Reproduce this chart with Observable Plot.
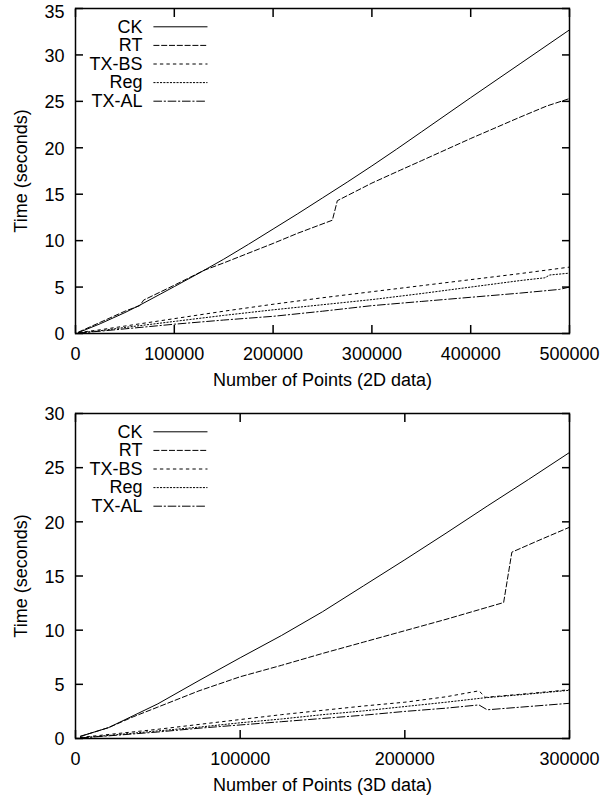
<!DOCTYPE html>
<html>
<head>
<meta charset="utf-8">
<script src="https://cdn.jsdelivr.net/npm/d3@7"></script>
<script src="https://cdn.jsdelivr.net/npm/@observablehq/plot@0.6"></script>
<style>
  html, body { margin: 0; padding: 0; background: white; }
  #chart svg { display: block; }
</style>
</head>
<body>
<div id="chart"></div>
<script>
// ---------- data ----------
const seriesNames = ["CK", "RT", "TX-BS", "Reg", "TX-AL"];

// 2D data chart
const xTicks2D = [0, 100000, 200000, 300000, 400000, 500000];
const yTicks2D = [0, 5, 10, 15, 20, 25, 30, 35];
const ck2dX = [3000, 25000, 50000, 65000, 100000, 125000, 150000, 175000, 200000, 225000, 250000, 275000, 300000, 325000, 350000, 375000, 400000, 450000, 500000];
const ck2dY = [0.1, 1.05, 2.25, 3.05, 5.05, 6.5, 8.0, 9.6, 11.25, 12.9, 14.6, 16.3, 18.05, 19.85, 21.7, 23.55, 25.4, 29.05, 32.7];
const rt2dX = [3000, 25000, 50000, 65000, 69000, 100000, 130000, 150000, 200000, 225000, 260000, 265000, 300000, 329000, 350000, 400000, 450000, 477000, 500000];
const rt2dY = [0.15, 1.2, 2.4, 3.0, 3.6, 5.2, 6.8, 7.6, 9.7, 10.8, 12.2, 14.3, 16.2, 17.6, 18.6, 21.0, 23.3, 24.5, 25.3];
const txbs2dX = [3000, 25000, 50000, 100000, 150000, 200000, 250000, 300000, 350000, 400000, 450000, 500000];
const txbs2dY = [0.1, 0.4, 0.8, 1.6, 2.4, 3.15, 3.85, 4.5, 5.15, 5.8, 6.45, 7.15];
const reg2dX = [3000, 25000, 50000, 100000, 150000, 200000, 250000, 300000, 350000, 400000, 450000, 475000, 480000, 500000];
const reg2dY = [0.05, 0.3, 0.65, 1.3, 1.95, 2.55, 3.1, 3.65, 4.3, 5.0, 5.7, 6.0, 6.3, 6.5];
const txal2dX = [3000, 25000, 50000, 100000, 150000, 200000, 250000, 300000, 350000, 400000, 450000, 490000, 500000];
const txal2dY = [0.05, 0.25, 0.5, 1.0, 1.45, 1.85, 2.4, 3.0, 3.45, 3.9, 4.35, 4.75, 5.0];

// 3D data chart
const xTicks3D = [0, 100000, 200000, 300000];
const yTicks3D = [0, 5, 10, 15, 20, 25, 30];
const ck3dX = [3000, 20000, 35000, 50000, 75000, 100000, 125000, 150000, 175000, 200000, 225000, 250000, 275000, 300000];
const ck3dY = [0.2, 1.0, 2.1, 3.2, 5.35, 7.45, 9.5, 11.7, 14.1, 16.5, 18.95, 21.45, 23.9, 26.4];
const rt3dX = [3000, 20000, 35000, 50000, 75000, 100000, 125000, 150000, 175000, 200000, 225000, 260000, 265000, 280000, 300000];
const rt3dY = [0.2, 1.0, 2.0, 2.9, 4.4, 5.7, 6.75, 7.85, 8.9, 9.95, 11.0, 12.55, 17.2, 18.2, 19.5];
const txbs3dX = [3000, 25000, 50000, 75000, 100000, 125000, 150000, 175000, 200000, 225000, 245000, 249000, 275000, 300000];
const txbs3dY = [0.1, 0.45, 0.85, 1.3, 1.75, 2.2, 2.6, 3.0, 3.35, 3.85, 4.4, 3.8, 4.15, 4.5];
const reg3dX = [3000, 25000, 50000, 75000, 100000, 125000, 150000, 175000, 200000, 225000, 248000, 275000, 300000];
const reg3dY = [0.05, 0.35, 0.7, 1.05, 1.45, 1.8, 2.2, 2.55, 2.95, 3.35, 3.75, 4.1, 4.45];
const txal3dX = [3000, 25000, 50000, 75000, 100000, 125000, 150000, 175000, 200000, 225000, 245000, 250000, 275000, 300000];
const txal3dY = [0.05, 0.3, 0.6, 0.95, 1.25, 1.55, 1.85, 2.15, 2.5, 2.8, 3.1, 2.65, 2.95, 3.25];

// ---------- styles ----------
const dashes = {"CK": null, "RT": "5.2,2.6", "TX-BS": "2.6,3.9", "Reg": "1.3,2", "TX-AL": "7.8,2.6,1.3,2.6"};
const FONT = "'Liberation Sans', Arial, Helvetica, sans-serif";

function toRows(xs, ys) { return xs.map((x, i) => ({x, y: ys[i]})); }

const lineShape = {draw(context, l) { context.moveTo(0, 0); context.lineTo(0, -l); }};

function makeChart({series, xTicks, yTicks, xLabel, marginTop, marginBottom, topLabelDy}) {
  const xMax = xTicks[xTicks.length - 1];
  const yMax = yTicks[yTicks.length - 1];
  const marks = [];
  // data lines
  series.forEach(([name, xs, ys]) => {
    marks.push(Plot.line(toRows(xs, ys), {x: "x", y: "y", stroke: "black", strokeWidth: 1, strokeDasharray: dashes[name]}));
  });
  // inward ticks on all four sides
  const tickOpts = {tickSize: 8, tickFormat: () => "", label: null, strokeWidth: 1.5};
  marks.push(Plot.axisX(xTicks, {anchor: "bottom", dy: -8, ...tickOpts}));
  marks.push(Plot.axisX(xTicks, {anchor: "top", dy: 8, ...tickOpts}));
  marks.push(Plot.axisY(yTicks, {anchor: "left", dx: 8, ...tickOpts}));
  marks.push(Plot.axisY(yTicks, {anchor: "right", dx: -8, ...tickOpts}));
  // tick labels
  marks.push(Plot.axisX(xTicks, {anchor: "bottom", tickSize: 0, tickPadding: 14, tickFormat: d => String(d), label: null}));
  marks.push(Plot.axisY(yTicks.slice(0, -1), {anchor: "left", tickSize: 0, tickPadding: 11, dy: 1, tickFormat: d => String(d), label: null}));
  marks.push(Plot.axisY([yMax], {anchor: "left", tickSize: 0, tickPadding: 11, dy: topLabelDy, tickFormat: d => String(d), label: null}));
  // axis titles
  marks.push(Plot.text([xLabel], {frameAnchor: "bottom", dy: 47, lineAnchor: "middle", textAnchor: "middle", text: d => d}));
  marks.push(Plot.text(["Time (seconds)"], {frameAnchor: "left", dx: -54, rotate: -90, lineAnchor: "middle", textAnchor: "middle", text: d => d}));
  // legend (key)
  seriesNames.forEach((name, i) => {
    const rowY = 18.3 + i * 18.6;
    marks.push(Plot.text([name], {frameAnchor: "top-left", dx: 67, dy: rowY, textAnchor: "end", lineAnchor: "middle", text: d => d}));
    marks.push(Plot.vector([name], {frameAnchor: "top-left", dx: 78.3, dy: rowY, length: 53.3, rotate: 90, anchor: "start", shape: lineShape, stroke: "black", strokeWidth: 1, strokeDasharray: dashes[name]}));
  });
  marks.push(Plot.frame({stroke: "black", strokeWidth: 1.5}));
  return Plot.plot({
    width: 600,
    height: 400,
    marginLeft: 75,
    marginRight: 31,
    marginTop,
    marginBottom,
    x: {domain: [0, xMax]},
    y: {domain: [0, yMax]},
    style: {fontFamily: FONT, fontSize: "18px", background: "white", color: "black", overflow: "visible"},
    marks
  });
}

const chart2D = makeChart({
  series: [["CK", ck2dX, ck2dY], ["RT", rt2dX, rt2dY], ["TX-BS", txbs2dX, txbs2dY], ["Reg", reg2dX, reg2dY], ["TX-AL", txal2dX, txal2dY]],
  xTicks: xTicks2D, yTicks: yTicks2D, xLabel: "Number of Points (2D data)", marginTop: 8, marginBottom: 67, topLabelDy: 3.5
});
const chart3D = makeChart({
  series: [["CK", ck3dX, ck3dY], ["RT", rt3dX, rt3dY], ["TX-BS", txbs3dX, txbs3dY], ["Reg", reg3dX, reg3dY], ["TX-AL", txal3dX, txal3dY]],
  xTicks: xTicks3D, yTicks: yTicks3D, xLabel: "Number of Points (3D data)", marginTop: 13, marginBottom: 62, topLabelDy: 1
});
const root = document.getElementById("chart");
root.appendChild(chart2D);
root.appendChild(chart3D);
</script>
</body>
</html>
